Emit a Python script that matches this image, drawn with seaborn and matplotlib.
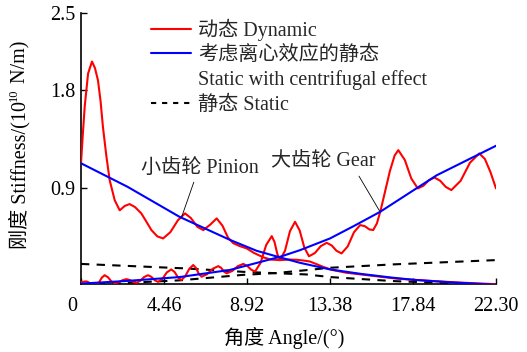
import matplotlib
matplotlib.use("Agg")
import matplotlib.pyplot as plt
import pandas as pd
import seaborn as sns
from matplotlib.lines import Line2D
from matplotlib.transforms import ScaledTranslation, IdentityTransform

# ---- data: mesh stiffness vs. rotation angle ----
# dynamic stiffness, pinion side
pin_dyn_x = [0.0, 0.1, 0.2, 0.38, 0.59, 0.75, 0.91, 1.05, 1.18, 1.36, 1.54, 1.81, 2.08, 2.35,
             2.61, 2.9, 3.24, 3.5, 3.78, 4.1, 4.41, 4.8, 5.21, 5.59, 5.9, 6.25, 6.57, 6.95,
             7.29, 7.6, 7.9, 8.18, 8.5, 8.9, 9.3, 9.8, 10.2, 10.69, 11.2, 11.6, 12.0, 12.3,
             12.7, 13.0, 13.5, 14.28, 15.0, 16.0, 17.0, 18.5, 20.0, 21.2, 22.3]
pin_dyn_y = [1.13, 1.40, 1.65, 1.95, 2.06, 2.00, 1.89, 1.70, 1.46, 1.20, 0.976, 0.793, 0.70, 0.74,
             0.757, 0.73, 0.672, 0.60, 0.52, 0.462, 0.443, 0.50, 0.61, 0.672, 0.63, 0.55, 0.519, 0.57,
             0.626, 0.56, 0.45, 0.40, 0.375, 0.352, 0.31, 0.27, 0.25, 0.245, 0.25, 0.248, 0.24, 0.232,
             0.205, 0.184, 0.155, 0.129, 0.115, 0.095, 0.075, 0.058, 0.043, 0.033, 0.025]

# dynamic stiffness, gear side
gear_dyn_x = [0.0, 0.3, 0.55, 0.82, 0.97, 1.12, 1.27, 1.45, 1.63, 1.81, 2.02, 2.23, 2.44, 2.62,
              2.79, 2.97, 3.18, 3.39, 3.6, 3.78, 3.96, 4.14, 4.38, 4.61, 4.85, 5.03, 5.21, 5.39,
              5.6, 5.82, 6.03, 6.18, 6.33, 6.48, 6.78, 7.08, 7.38, 7.53, 7.68, 7.83, 8.13, 8.42,
              8.72, 8.93, 9.14, 9.35, 9.65, 9.95, 10.25, 10.4, 10.55, 10.69, 10.96, 11.23, 11.5,
              11.75, 12.0, 12.25, 12.57, 12.88, 13.2, 13.47, 13.73, 14.0, 14.33, 14.67, 15.0,
              15.25, 15.5, 15.7, 15.9, 16.1, 16.35, 16.6, 16.85, 17.05, 17.4, 17.75, 18.1, 18.4,
              18.7, 18.99, 19.3, 19.6, 19.9, 20.4, 20.9, 21.4, 21.7, 22.0, 22.3]
gear_dyn_y = [0.045, 0.05, 0.03, 0.02, 0.042, 0.085, 0.107, 0.088, 0.051, 0.032, 0.042, 0.061, 0.071, 0.063,
              0.046, 0.037, 0.055, 0.09, 0.107, 0.092, 0.061, 0.046, 0.075, 0.132, 0.16, 0.136, 0.087, 0.062,
              0.097, 0.166, 0.20, 0.173, 0.12, 0.093, 0.117, 0.166, 0.19, 0.174, 0.14, 0.124, 0.146, 0.189,
              0.21, 0.193, 0.158, 0.14, 0.22, 0.383, 0.464, 0.41, 0.30, 0.245, 0.33, 0.51, 0.595,
              0.516, 0.36, 0.28, 0.31, 0.372, 0.403, 0.379, 0.33, 0.306, 0.37, 0.50, 0.565,
              0.555, 0.525, 0.52, 0.58, 0.70, 0.88, 1.06, 1.20, 1.25, 1.16, 0.99, 0.90, 0.925,
              0.975, 1.0, 0.97, 0.914, 0.885, 0.97, 1.135, 1.22, 1.17, 1.05, 0.90]

# static stiffness including centrifugal effect
pin_cf_x = [0.0, 2.5, 5.3, 8.0, 9.44, 10.69, 11.77, 13.38, 15.0, 16.6, 17.86, 20.0, 22.3]
pin_cf_y = [1.13, 0.915, 0.64, 0.43, 0.33, 0.27, 0.22, 0.16, 0.12, 0.087, 0.065, 0.04, 0.02]
gear_cf_x = [0.0, 2.5, 5.3, 8.0, 10.69, 11.77, 13.38, 14.7, 16.07, 19.11, 22.3]
gear_cf_y = [0.03, 0.055, 0.09, 0.155, 0.275, 0.336, 0.443, 0.56, 0.686, 1.02, 1.29]

# static stiffness
pin_st_x = [0.0, 5.5, 8.7, 10.5, 12.1, 13.38, 16.8, 22.3]
pin_st_y = [0.21, 0.17, 0.138, 0.125, 0.114, 0.09, 0.053, 0.018]
gear_st_x = [0.0, 5.3, 8.7, 10.5, 12.1, 13.38, 16.8, 22.3]
gear_st_y = [0.018, 0.06, 0.11, 0.127, 0.153, 0.175, 0.206, 0.245]

x_ticks = [0, 4.46, 8.92, 13.38, 17.84, 22.30]
x_tick_labels = ["0", "4.46", "8.92", "13.38", "17.84", "22.30"]
y_ticks = [0.9, 1.8, 2.5]
y_tick_labels = ["0.9", "1.8", "2.5"]

legend_labels = ["动态 Dynamic", "考虑离心效应的静态", "Static with centrifugal effect", "静态 Static"]

# y-axis title pieces: main text, superscript exponent, unit
ylabel_parts = ["刚度 Stiffness/(10", "10", " N/m)"]

# ---- style ----
sns.set_theme(style="ticks")
plt.rcParams["font.family"] = ["Liberation Serif", "Noto Sans CJK SC", "DejaVu Serif"]
plt.rcParams["axes.unicode_minus"] = False

FS = 14.5

fig = plt.figure(figsize=(5.27, 3.52), dpi=100)
ax = fig.add_axes([0.1537, 0.193, 0.7875, 0.769])

LW = 1.5
dash = (4, 3.5)

for xs, ys in [(pin_st_x, pin_st_y), (gear_st_x, gear_st_y)]:
    sns.lineplot(data=pd.DataFrame({"a": xs, "k": ys}), x="a", y="k", ax=ax,
                 color="black", linewidth=LW, estimator=None, sort=False, zorder=2)
    ax.lines[-1].set_dashes(dash)

for xs, ys in [(pin_dyn_x, pin_dyn_y), (gear_dyn_x, gear_dyn_y)]:
    sns.lineplot(data=pd.DataFrame({"a": xs, "k": ys}), x="a", y="k", ax=ax,
                 color="#ff0000", linewidth=LW, estimator=None, sort=False, zorder=3)

for xs, ys in [(pin_cf_x, pin_cf_y), (gear_cf_x, gear_cf_y)]:
    sns.lineplot(data=pd.DataFrame({"a": xs, "k": ys}), x="a", y="k", ax=ax,
                 color="#0000ff", linewidth=LW, estimator=None, sort=False, zorder=4)

ax.set_xlim(0, 22.3)
ax.set_ylim(0.026, 2.5)
ax.set_xticks(x_ticks)
ax.set_xticklabels(x_tick_labels)
ax.set_yticks(y_ticks)
ax.set_yticklabels(y_tick_labels)

ax.tick_params(direction="in", length=4.5, width=1, colors="black", labelsize=FS)
ax.tick_params(axis="x", pad=9)
ax.tick_params(axis="y", pad=4)

for side in ["top", "right"]:
    ax.spines[side].set_visible(False)
for side in ["left", "bottom"]:
    ax.spines[side].set_color("black")
    ax.spines[side].set_linewidth(1.2)

# nudge the origin label to sit left of the corner
origin_lbl = ax.get_xticklabels()[0]
origin_lbl.set_transform(origin_lbl.get_transform() +
                         ScaledTranslation(-6 / 72, 0, fig.dpi_scale_trans))

ax.set_xlabel("角度 Angle/(°)", fontsize=FS, color="black")
ax.xaxis.set_label_coords(0.49, -0.16)
ax.set_ylabel("")

# rotated y-axis title built from pieces so the exponent is a true superscript
renderer = fig.canvas.get_renderer()
px = IdentityTransform()
sizes = [FS, FS * 0.62, FS]
shifts = [0, -0.42 * FS * 100 / 72, 0]
pieces = []
for s, sz in zip(ylabel_parts, sizes):
    t = fig.text(0, 0, s, rotation=90, rotation_mode="anchor", ha="left",
                 va="baseline", fontsize=sz, color="black", transform=px)
    pieces.append(t)
lengths = [t.get_window_extent(renderer).height for t in pieces]
base_x = 25
y_pos = 207 - sum(lengths) / 2
for t, L, dx in zip(pieces, lengths, shifts):
    t.set_position((base_x + dx, y_pos))
    y_pos += L

# legend
handles = [Line2D([], [], color="#ff0000", lw=LW),
           Line2D([], [], color="#0000ff", lw=LW),
           Line2D([], [], color="none", lw=0),
           Line2D([], [], color="black", lw=LW, dashes=(2.5, 2.8))]
fig.legend(handles, legend_labels, loc="upper left",
           bbox_to_anchor=(151 / 527, 1 - 19 / 352), frameon=False,
           fontsize=FS, handlelength=2.0, handletextpad=0.35,
           labelspacing=0.25, borderpad=0, borderaxespad=0)

# leader-line labels
ax.annotate("小齿轮 Pinion", xy=(5.41, 0.64), xytext=(6.4, 1.086),
            ha="center", va="center", fontsize=FS,
            arrowprops=dict(arrowstyle="-", color="black", lw=0.6,
                            relpos=(0.46, 0.0), shrinkA=1, shrinkB=0))
ax.annotate("大齿轮 Gear", xy=(16.07, 0.686), xytext=(13.0, 1.14),
            ha="center", va="center", fontsize=FS,
            arrowprops=dict(arrowstyle="-", color="black", lw=0.6,
                            relpos=(0.82, 0.0), shrinkA=1, shrinkB=0))

fig.savefig("out.png", dpi=100)
